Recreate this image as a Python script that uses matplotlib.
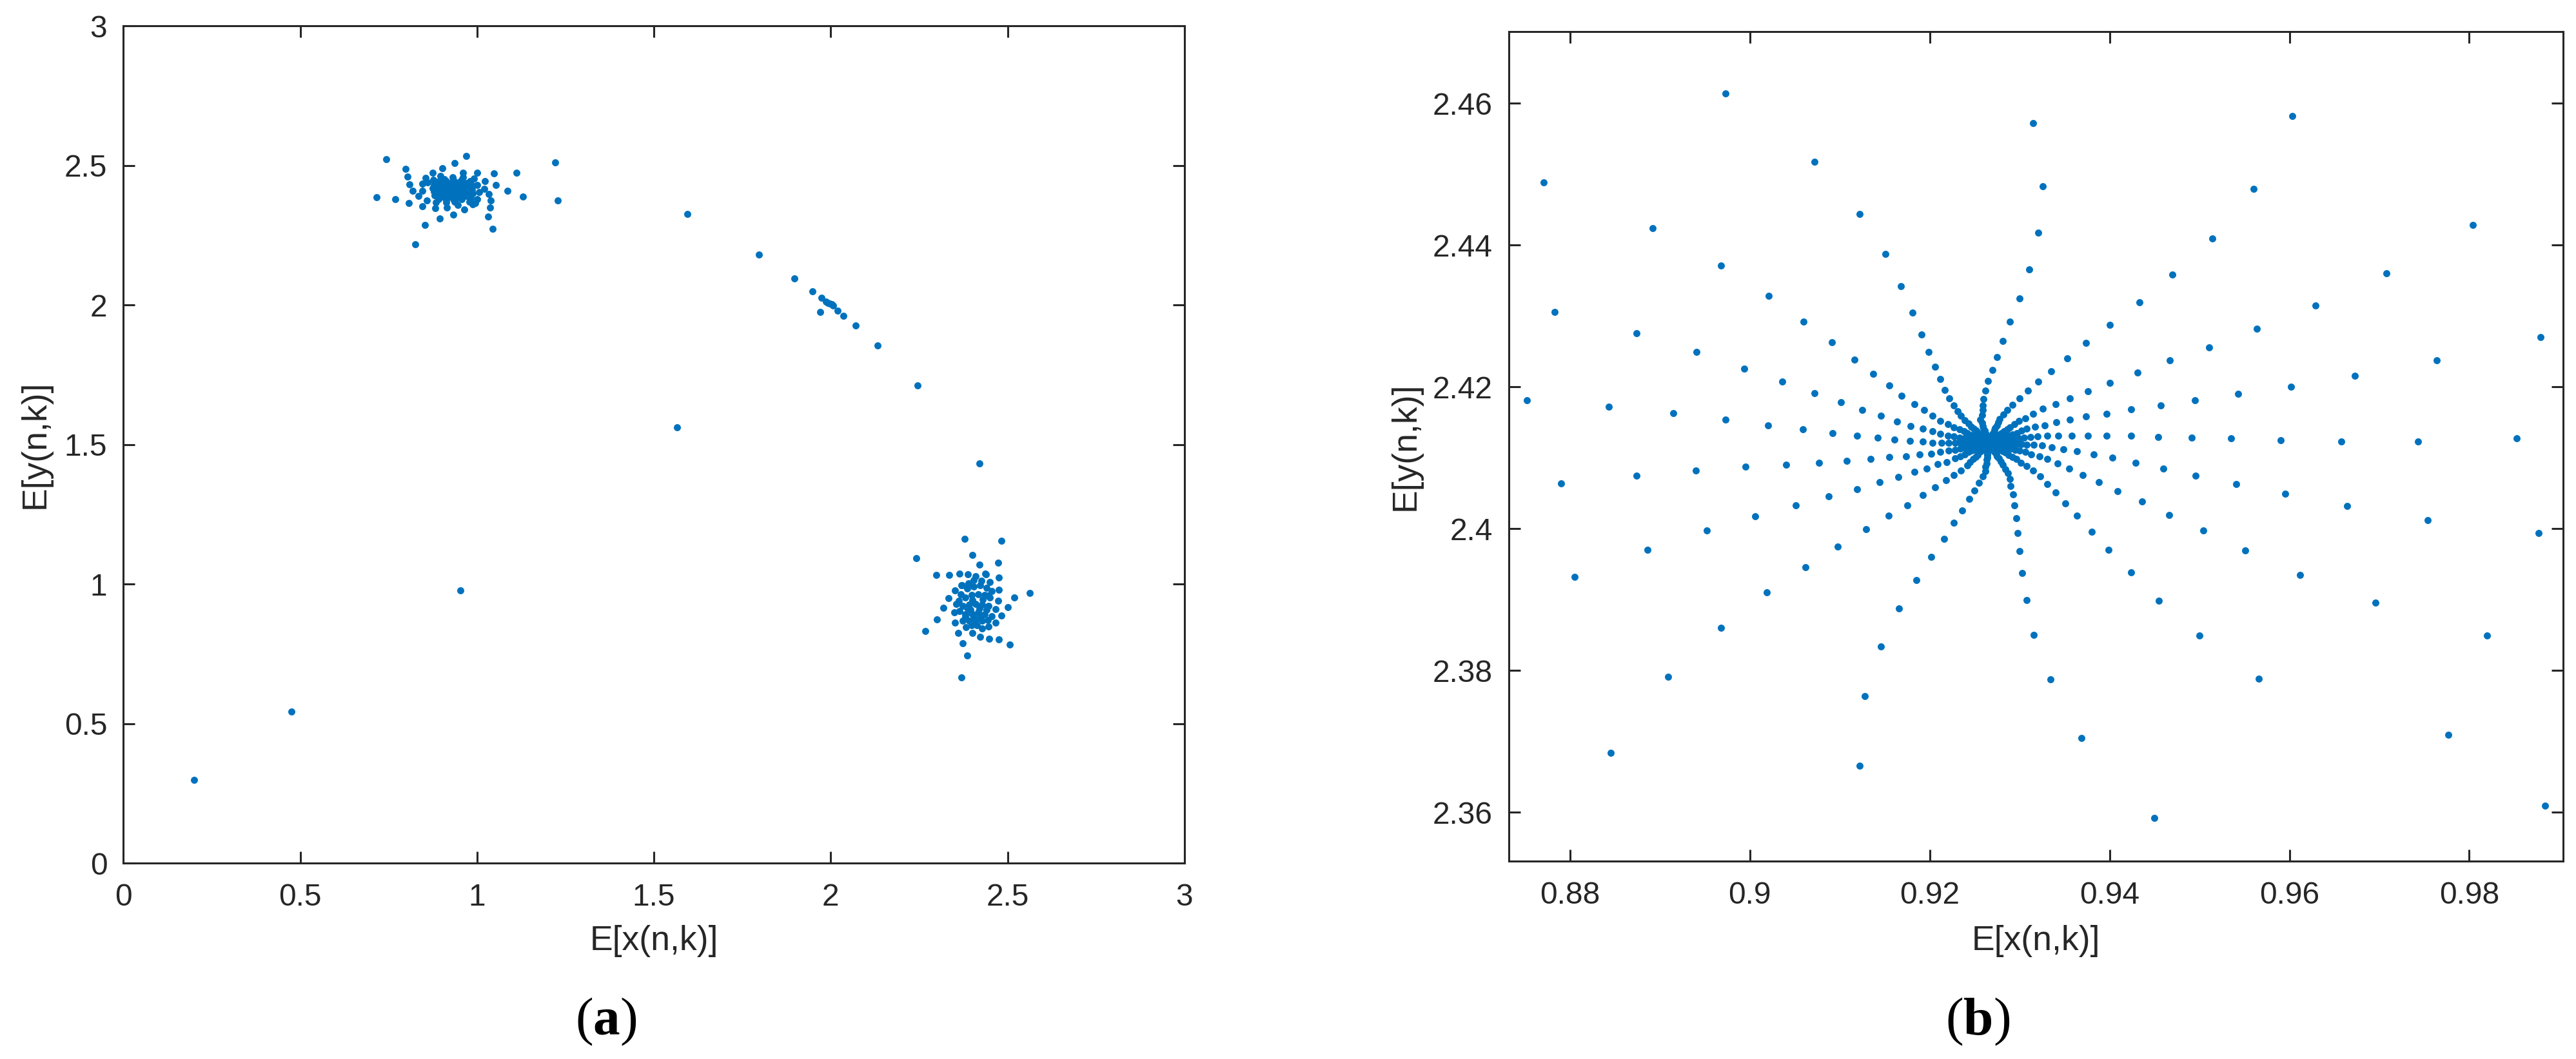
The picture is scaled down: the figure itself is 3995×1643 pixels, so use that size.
import matplotlib
matplotlib.use("Agg")
import matplotlib.pyplot as plt
from matplotlib.ticker import FuncFormatter

BLUE = "#0072BD"
INK = "#262626"

# ---- panel (b): 17 spokes of the star, read outer -> inner ----
ray_01 = [(0.8973, 2.4614), (0.9072, 2.4517), (0.9122, 2.4444), (0.9151, 2.4387), (0.9168, 2.4342),
          (0.9181, 2.4305), (0.9191, 2.4274), (0.9199, 2.4249), (0.9206, 2.4228), (0.9212, 2.4211),
          (0.9217, 2.4196), (0.9222, 2.4184), (0.9227, 2.4174), (0.9231, 2.4166), (0.9235, 2.4159),
          (0.9239, 2.4153), (0.9243, 2.4148), (0.9246, 2.4144), (0.9249, 2.4141), (0.9252, 2.4138),
          (0.9254, 2.4135), (0.9256, 2.4133), (0.9258, 2.4131), (0.9259, 2.4129), (0.9261, 2.4127),
          (0.9262, 2.4126), (0.9263, 2.4124), (0.9265, 2.4123)]
ray_02 = [(0.8771, 2.4488), (0.8892, 2.4424), (0.8968, 2.4371), (0.9021, 2.4328), (0.9060, 2.4292),
          (0.9091, 2.4263), (0.9116, 2.4238), (0.9137, 2.4218), (0.9155, 2.4202), (0.9169, 2.4187),
          (0.9183, 2.4176), (0.9194, 2.4167), (0.9203, 2.4159), (0.9212, 2.4152), (0.9220, 2.4147),
          (0.9227, 2.4143), (0.9233, 2.4140), (0.9238, 2.4137), (0.9242, 2.4135), (0.9246, 2.4132),
          (0.9249, 2.4131), (0.9252, 2.4129), (0.9254, 2.4128), (0.9257, 2.4126), (0.9259, 2.4125),
          (0.9261, 2.4124), (0.9264, 2.4122)]
ray_03 = [(0.8783, 2.4306), (0.8874, 2.4276), (0.8941, 2.4249), (0.8994, 2.4226), (0.9036, 2.4207),
          (0.9072, 2.4191), (0.9101, 2.4178), (0.9125, 2.4167), (0.9146, 2.4159), (0.9164, 2.4151),
          (0.9179, 2.4145), (0.9192, 2.4141), (0.9203, 2.4137), (0.9212, 2.4134), (0.9220, 2.4131),
          (0.9227, 2.4130), (0.9233, 2.4128), (0.9238, 2.4127), (0.9242, 2.4126), (0.9246, 2.4125),
          (0.9249, 2.4125), (0.9252, 2.4124), (0.9255, 2.4124), (0.9257, 2.4123), (0.9259, 2.4122),
          (0.9261, 2.4122), (0.9264, 2.4122)]
ray_04 = [(0.8752, 2.4181), (0.8843, 2.4172), (0.8915, 2.4163), (0.8973, 2.4154), (0.9020, 2.4146),
          (0.9059, 2.4140), (0.9092, 2.4135), (0.9119, 2.4131), (0.9142, 2.4128), (0.9161, 2.4126),
          (0.9178, 2.4124), (0.9192, 2.4123), (0.9203, 2.4121), (0.9213, 2.4121), (0.9221, 2.4121),
          (0.9228, 2.4121), (0.9234, 2.4121), (0.9239, 2.4121), (0.9243, 2.4121), (0.9247, 2.4121),
          (0.9250, 2.4121), (0.9253, 2.4121), (0.9255, 2.4121), (0.9258, 2.4121), (0.9261, 2.4121),
          (0.9263, 2.4121)]
ray_05 = [(0.8790, 2.4064), (0.8874, 2.4075), (0.8940, 2.4082), (0.8995, 2.4087), (0.9040, 2.4090),
          (0.9077, 2.4093), (0.9108, 2.4096), (0.9134, 2.4098), (0.9155, 2.4101), (0.9174, 2.4102),
          (0.9189, 2.4105), (0.9202, 2.4106), (0.9212, 2.4108), (0.9221, 2.4110), (0.9228, 2.4111),
          (0.9234, 2.4113), (0.9239, 2.4114), (0.9243, 2.4115), (0.9246, 2.4116), (0.9249, 2.4117),
          (0.9252, 2.4118), (0.9255, 2.4118), (0.9257, 2.4119), (0.9259, 2.4119), (0.9262, 2.4120),
          (0.9264, 2.4120)]
ray_06 = [(0.8805, 2.3932), (0.8886, 2.3970), (0.8952, 2.3997), (0.9006, 2.4017), (0.9051, 2.4033),
          (0.9088, 2.4046), (0.9119, 2.4056), (0.9144, 2.4066), (0.9165, 2.4073), (0.9183, 2.4080),
          (0.9197, 2.4085), (0.9209, 2.4091), (0.9219, 2.4094), (0.9228, 2.4099), (0.9234, 2.4102),
          (0.9239, 2.4105), (0.9243, 2.4108), (0.9246, 2.4110), (0.9249, 2.4111), (0.9252, 2.4113),
          (0.9254, 2.4114), (0.9257, 2.4116), (0.9258, 2.4117), (0.9260, 2.4118), (0.9262, 2.4119),
          (0.9264, 2.4120)]
ray_07 = [(0.8845, 2.3684), (0.8909, 2.3791), (0.8968, 2.3860), (0.9019, 2.3910), (0.9062, 2.3946),
          (0.9098, 2.3975), (0.9129, 2.3999), (0.9154, 2.4018), (0.9175, 2.4033), (0.9192, 2.4047),
          (0.9206, 2.4058), (0.9218, 2.4068), (0.9227, 2.4076), (0.9235, 2.4082), (0.9242, 2.4089),
          (0.9245, 2.4094), (0.9248, 2.4098), (0.9251, 2.4101), (0.9253, 2.4104), (0.9255, 2.4107),
          (0.9257, 2.4109), (0.9258, 2.4111), (0.9260, 2.4113), (0.9261, 2.4115), (0.9262, 2.4116),
          (0.9264, 2.4118), (0.9265, 2.4119)]
ray_08 = [(0.9122, 2.3666), (0.9128, 2.3764), (0.9146, 2.3834), (0.9166, 2.3887), (0.9185, 2.3927),
          (0.9202, 2.3960), (0.9216, 2.3986), (0.9227, 2.4008), (0.9236, 2.4026), (0.9244, 2.4042),
          (0.9250, 2.4054), (0.9255, 2.4065), (0.9259, 2.4074), (0.9262, 2.4081), (0.9262, 2.4087),
          (0.9263, 2.4092), (0.9263, 2.4097), (0.9264, 2.4100), (0.9264, 2.4104), (0.9264, 2.4106),
          (0.9265, 2.4109), (0.9265, 2.4111), (0.9265, 2.4113), (0.9265, 2.4115), (0.9266, 2.4117),
          (0.9266, 2.4119)]
ray_09 = [(0.9450, 2.3592), (0.9369, 2.3705), (0.9334, 2.3787), (0.9316, 2.3850), (0.9308, 2.3899),
          (0.9303, 2.3937), (0.9300, 2.3968), (0.9298, 2.3994), (0.9296, 2.4015), (0.9294, 2.4033),
          (0.9293, 2.4048), (0.9290, 2.4060), (0.9289, 2.4070), (0.9287, 2.4078), (0.9284, 2.4084),
          (0.9281, 2.4090), (0.9279, 2.4095), (0.9277, 2.4099), (0.9275, 2.4102), (0.9274, 2.4105),
          (0.9272, 2.4108), (0.9271, 2.4110), (0.9270, 2.4112), (0.9269, 2.4114), (0.9268, 2.4117),
          (0.9267, 2.4119)]
ray_10 = [(0.9884, 2.3609), (0.9777, 2.3709), (0.9566, 2.3788), (0.9500, 2.3849), (0.9455, 2.3898),
          (0.9424, 2.3938), (0.9399, 2.3970), (0.9380, 2.3996), (0.9364, 2.4018), (0.9351, 2.4036),
          (0.9340, 2.4051), (0.9331, 2.4063), (0.9323, 2.4074), (0.9315, 2.4082), (0.9308, 2.4088),
          (0.9301, 2.4093), (0.9296, 2.4098), (0.9292, 2.4101), (0.9288, 2.4104), (0.9284, 2.4107),
          (0.9281, 2.4109), (0.9278, 2.4111), (0.9276, 2.4113), (0.9273, 2.4115), (0.9271, 2.4117),
          (0.9268, 2.4119)]
ray_11 = [(0.9820, 2.3849), (0.9696, 2.3896), (0.9612, 2.3935), (0.9551, 2.3969), (0.9504, 2.3997),
          (0.9466, 2.4019), (0.9436, 2.4038), (0.9409, 2.4053), (0.9388, 2.4066), (0.9370, 2.4076),
          (0.9355, 2.4085), (0.9342, 2.4092), (0.9331, 2.4098), (0.9322, 2.4102), (0.9313, 2.4105),
          (0.9306, 2.4108), (0.9300, 2.4110), (0.9295, 2.4111), (0.9290, 2.4113), (0.9287, 2.4114),
          (0.9283, 2.4115), (0.9280, 2.4116), (0.9277, 2.4117), (0.9274, 2.4118), (0.9272, 2.4119),
          (0.9269, 2.4120)]
ray_12 = [(0.9877, 2.3994), (0.9754, 2.4012), (0.9664, 2.4032), (0.9595, 2.4049), (0.9541, 2.4063),
          (0.9496, 2.4075), (0.9460, 2.4085), (0.9429, 2.4093), (0.9403, 2.4100), (0.9382, 2.4105),
          (0.9364, 2.4109), (0.9349, 2.4112), (0.9336, 2.4115), (0.9325, 2.4117), (0.9316, 2.4118),
          (0.9308, 2.4118), (0.9302, 2.4119), (0.9297, 2.4119), (0.9292, 2.4119), (0.9288, 2.4120),
          (0.9284, 2.4120), (0.9281, 2.4120), (0.9278, 2.4120), (0.9275, 2.4120), (0.9272, 2.4121),
          (0.9269, 2.4121)]
ray_13 = [(0.9853, 2.4127), (0.9743, 2.4123), (0.9658, 2.4123), (0.9590, 2.4125), (0.9535, 2.4127),
          (0.9491, 2.4128), (0.9454, 2.4129), (0.9424, 2.4131), (0.9397, 2.4131), (0.9376, 2.4131),
          (0.9358, 2.4131), (0.9343, 2.4131), (0.9331, 2.4131), (0.9320, 2.4130), (0.9312, 2.4129),
          (0.9305, 2.4128), (0.9299, 2.4127), (0.9294, 2.4126), (0.9290, 2.4125), (0.9286, 2.4124),
          (0.9283, 2.4124), (0.9280, 2.4123), (0.9277, 2.4123), (0.9274, 2.4122), (0.9271, 2.4122),
          (0.9269, 2.4121)]
ray_14 = [(0.9879, 2.4270), (0.9764, 2.4237), (0.9673, 2.4216), (0.9602, 2.4200), (0.9543, 2.4190),
          (0.9495, 2.4181), (0.9457, 2.4174), (0.9424, 2.4168), (0.9397, 2.4162), (0.9374, 2.4158),
          (0.9356, 2.4154), (0.9341, 2.4150), (0.9328, 2.4146), (0.9317, 2.4144), (0.9308, 2.4141),
          (0.9302, 2.4138), (0.9297, 2.4135), (0.9292, 2.4133), (0.9288, 2.4131), (0.9285, 2.4130),
          (0.9282, 2.4128), (0.9279, 2.4127), (0.9277, 2.4126), (0.9274, 2.4125), (0.9272, 2.4124),
          (0.9270, 2.4123), (0.9268, 2.4122)]
ray_15 = [(0.9804, 2.4428), (0.9708, 2.4360), (0.9629, 2.4315), (0.9564, 2.4282), (0.9511, 2.4256),
          (0.9467, 2.4237), (0.9431, 2.4220), (0.9400, 2.4206), (0.9376, 2.4194), (0.9356, 2.4184),
          (0.9340, 2.4176), (0.9326, 2.4169), (0.9315, 2.4162), (0.9306, 2.4156), (0.9299, 2.4152),
          (0.9294, 2.4147), (0.9289, 2.4143), (0.9286, 2.4140), (0.9283, 2.4137), (0.9280, 2.4135),
          (0.9278, 2.4133), (0.9276, 2.4131), (0.9274, 2.4129), (0.9273, 2.4127), (0.9271, 2.4126),
          (0.9269, 2.4124), (0.9268, 2.4123)]
ray_16 = [(0.9603, 2.4582), (0.9560, 2.4479), (0.9514, 2.4409), (0.9470, 2.4358), (0.9433, 2.4319),
          (0.9400, 2.4287), (0.9374, 2.4262), (0.9353, 2.4240), (0.9335, 2.4222), (0.9321, 2.4207),
          (0.9309, 2.4195), (0.9300, 2.4184), (0.9292, 2.4175), (0.9286, 2.4167), (0.9282, 2.4161),
          (0.9278, 2.4155), (0.9276, 2.4150), (0.9275, 2.4146), (0.9273, 2.4142), (0.9272, 2.4139),
          (0.9271, 2.4136), (0.9270, 2.4134), (0.9270, 2.4132), (0.9269, 2.4130), (0.9268, 2.4128),
          (0.9268, 2.4126), (0.9267, 2.4124), (0.9267, 2.4123)]
ray_17 = [(0.9315, 2.4572), (0.9326, 2.4483), (0.9321, 2.4417), (0.9311, 2.4366), (0.9300, 2.4325),
          (0.9289, 2.4292), (0.9281, 2.4265), (0.9275, 2.4242), (0.9270, 2.4224), (0.9265, 2.4208),
          (0.9262, 2.4195), (0.9260, 2.4183), (0.9259, 2.4174), (0.9259, 2.4167), (0.9258, 2.4160),
          (0.9256, 2.4154), (0.9258, 2.4149), (0.9259, 2.4145), (0.9260, 2.4141), (0.9261, 2.4138),
          (0.9262, 2.4135), (0.9262, 2.4133), (0.9263, 2.4131), (0.9264, 2.4129), (0.9264, 2.4128),
          (0.9265, 2.4126), (0.9265, 2.4124), (0.9265, 2.4123)]
centre = [(0.9266, 2.4121)]

# ---- panel (a): points outside the zoomed window ----
cluster1_outer = [(0.7439, 2.5216), (0.9694, 2.5340), (1.2210, 2.5101), (0.9366, 2.5078), (0.7980, 2.4878),
                  (0.9019, 2.4901), (0.8746, 2.4731), (0.9609, 2.4731), (1.0008, 2.4747), (1.0484, 2.4724),
                  (1.1110, 2.4731), (0.8035, 2.4593), (0.8551, 2.4554), (0.9912, 2.4539), (1.0229, 2.4431),
                  (1.0538, 2.4292), (0.8083, 2.4331), (0.8454, 2.4346), (0.8180, 2.4092), (1.0210, 2.4169),
                  (1.0867, 2.4092), (1.0332, 2.3985), (0.7160, 2.3861), (0.7688, 2.3784), (0.8351, 2.3900),
                  (1.0381, 2.3754), (1.1292, 2.3877), (1.2289, 2.3738), (0.8077, 2.3646), (0.8460, 2.3538),
                  (0.8812, 2.3477), (0.9153, 2.3492), (0.9645, 2.3423), (1.0010, 2.3784), (1.0363, 2.3492),
                  (1.0314, 2.3169), (1.0447, 2.2730), (0.8946, 2.3092), (0.9335, 2.3246), (0.8521, 2.2868),
                  (0.8260, 2.2175), (0.8588, 2.3746), (0.8450, 2.4100), (0.8600, 2.4400), (1.0050, 2.4050),
                  (1.0000, 2.4300), (0.9950, 2.3650)]
cluster2 = [(2.3793, 1.1629), (2.4832, 1.1544), (2.2419, 1.0921), (2.4005, 1.1036), (2.4212, 1.0698),
            (2.4735, 1.0759), (2.2990, 1.0320), (2.3349, 1.0320), (2.3641, 1.0366), (2.3884, 1.0351),
            (2.4097, 1.0282), (2.4376, 1.0374), (2.4753, 1.0236), (2.4498, 1.0066), (2.3702, 0.9951),
            (2.3513, 0.9774), (2.4759, 0.9789), (2.5634, 0.9681), (2.5191, 0.9527), (2.3337, 0.9489),
            (2.3556, 0.9296), (2.4741, 0.9396), (2.3179, 0.9142), (2.5000, 0.9173), (2.3489, 0.8988),
            (2.4662, 0.9096), (2.4832, 0.8865), (2.3009, 0.8727), (2.3513, 0.8619), (2.3726, 0.8696),
            (2.4662, 0.8611), (2.3829, 0.8449), (2.4273, 0.8411), (2.4461, 0.8472), (2.2675, 0.8318),
            (2.3598, 0.8249), (2.4000, 0.8242), (2.4224, 0.8111), (2.4480, 0.8042), (2.4753, 0.8011),
            (2.5057, 0.7834), (2.3726, 0.7880), (2.3860, 0.7449), (2.3696, 0.6663)]
cluster2_core = [(2.3708, 0.9966), (2.3890, 1.0035), (2.4261, 1.0128), (2.4382, 1.0359), (2.4558, 0.9758),
                 (2.4558, 0.8850), (2.3988, 0.8527), (2.3677, 0.9643), (2.3647, 0.9027), (2.3799, 0.8834),
                 (2.3860, 0.9835), (2.4042, 0.9912), (2.4224, 0.9951), (2.4407, 0.9874), (2.3799, 0.9527),
                 (2.3981, 0.9604), (2.4163, 0.9643), (2.4346, 0.9604), (2.4498, 0.9527), (2.3738, 0.9219),
                 (2.3920, 0.9258), (2.4103, 0.9296), (2.4285, 0.9258), (2.4467, 0.9219), (2.3799, 0.8911),
                 (2.3981, 0.8950), (2.4163, 0.8988), (2.4346, 0.8911), (2.3920, 0.8680), (2.4103, 0.8719),
                 (2.4285, 0.8680), (2.4133, 0.8527), (2.4042, 1.0143), (2.3860, 0.9142), (2.4437, 0.8719),
                 (2.3616, 0.9412), (2.4000, 0.9420), (2.4300, 0.9440), (2.4200, 0.9120), (2.3950, 0.9070),
                 (2.4400, 0.9080), (2.4050, 0.8850), (2.4250, 0.8850), (2.4450, 0.9600)]
transit = [(1.5953, 2.3259), (1.7976, 2.1815), (1.8976, 2.0958), (1.9477, 2.0494), (1.9732, 2.0256),
           (1.9873, 2.0122), (1.9918, 2.0083), (1.9976, 2.0041), (2.0034, 2.0021), (2.0069, 1.9979),
           (2.0186, 1.9794), (1.9709, 1.9741), (2.0359, 1.9607), (2.0697, 1.9268), (2.1325, 1.8556),
           (2.2452, 1.7122), (1.5663, 1.5607), (2.4197, 1.4319)]
lower_left = [(0.2000, 0.2986), (0.4757, 0.5443), (0.9523, 0.9776)]

star = (ray_01 + ray_02 + ray_03 + ray_04 + ray_05 + ray_06 + ray_07 + ray_08 + ray_09
        + ray_10 + ray_11 + ray_12 + ray_13 + ray_14 + ray_15 + ray_16 + ray_17 + centre)
panel_a = star + cluster1_outer + cluster2 + cluster2_core + transit + lower_left

plt.rcParams['font.family'] = ['Liberation Sans', 'DejaVu Sans']
plt.rcParams['mathtext.fontset'] = 'custom'
plt.rcParams['mathtext.rm'] = 'Liberation Serif'
plt.rcParams['mathtext.bf'] = 'Liberation Serif:bold'

fig = plt.figure(figsize=(39.95, 16.43), dpi=100)
ax_a = fig.add_axes([0.04789, 0.18491, 0.41189, 0.79063])
ax_b = fig.add_axes([0.58573, 0.18685, 0.40914, 0.78332])


def draw(ax, pts):
    xs = [p[0] for p in pts]
    ys = [p[1] for p in pts]
    ax.plot(xs, ys, 'o', ms=7.9, mew=0, color=BLUE, linestyle='none')


def style(ax, xticks, yticks, xlim, ylim, xlab_y, ylab_x):
    ax.set_xlim(*xlim)
    ax.set_ylim(*ylim)
    ax.set_xticks(xticks)
    ax.set_yticks(yticks)
    fmt = FuncFormatter(lambda v, p: f"{round(v, 4):g}")
    ax.xaxis.set_major_formatter(fmt)
    ax.yaxis.set_major_formatter(fmt)
    ax.tick_params(direction='in', length=13, width=2.2, color=INK, labelcolor=INK,
                   labelsize=34.5, top=True, right=True)
    ax.tick_params(axis='x', pad=22)
    ax.tick_params(axis='y', pad=18)
    for s in ax.spines.values():
        s.set_linewidth(2.2)
        s.set_color(INK)
    ax.set_xlabel('E[x(n,k)]', fontsize=38.5, color=INK)
    ax.set_ylabel('E[y(n,k)]', fontsize=38.5, color=INK)
    ax.xaxis.set_label_coords(0.5, xlab_y)
    ax.yaxis.set_label_coords(ylab_x, 0.5)


draw(ax_a, panel_a)
draw(ax_b, star)

ticks_a = [0, 0.5, 1, 1.5, 2, 2.5, 3]
style(ax_a, ticks_a, ticks_a, (0, 3), (0, 3), -0.0737, -0.0676)
style(ax_b, [0.88, 0.9, 0.92, 0.94, 0.96, 0.98], [2.36, 2.38, 2.4, 2.42, 2.44, 2.46],
      (0.8732, 0.9904), (2.3531, 2.4701), -0.0768, -0.0828)

fig.text(940 / 3995, 0.0231, r'$\mathrm{(}\mathbf{a}\mathrm{)}$', fontsize=60, color='black',
         ha='center', va='baseline')
fig.text(3067 / 3995, 0.0231, r'$\mathrm{(}\mathbf{b}\mathrm{)}$', fontsize=60, color='black',
         ha='center', va='baseline')

fig.savefig('out.png', dpi=100, facecolor='white')
